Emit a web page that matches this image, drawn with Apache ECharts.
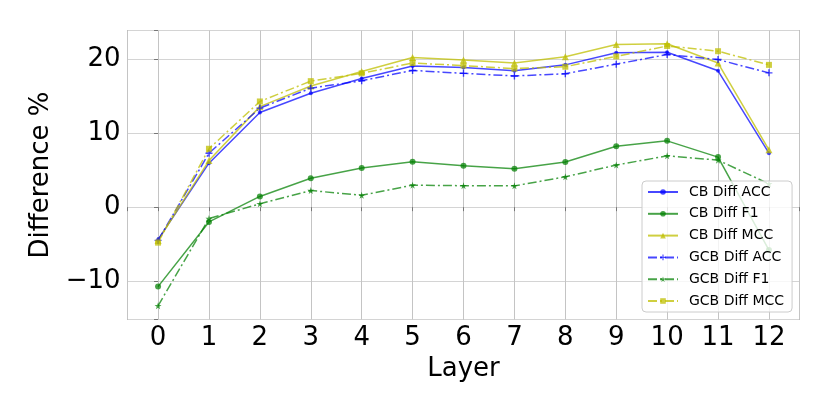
<!DOCTYPE html>
<html>
<head>
<meta charset="utf-8">
<script src="https://cdn.jsdelivr.net/npm/echarts@6/dist/echarts.min.js"></script>
<style>
html,body{margin:0;padding:0;background:#fff;}
#c{width:830px;height:415px;}
</style>
</head>
<body>
<div id="c"></div>
<script>
const layers = [0,1,2,3,4,5,6,7,8,9,10,11,12];
const cbAcc  = [-4.4, 5.95, 12.8, 15.4, 17.4, 19.1, 18.9, 18.45, 19.25, 20.9, 20.95, 18.45, 7.3];
const cbF1   = [-10.75, -2.0, 1.45, 3.9, 5.3, 6.13, 5.6, 5.2, 6.1, 8.25, 8.97, 6.77, -5.8];
const cbMcc  = [-4.5, 6.3, 13.6, 16.4, 18.35, 20.25, 19.9, 19.5, 20.35, 22.0, 22.1, 19.5, 7.75];
const gcbAcc = [-4.5, 7.3, 13.4, 16.1, 17.1, 18.5, 18.1, 17.75, 18.05, 19.35, 20.65, 19.97, 18.17];
const gcbF1  = [-13.35, -1.55, 0.45, 2.25, 1.6, 2.98, 2.9, 2.88, 4.1, 5.7, 6.94, 6.36, 3.15];
const gcbMcc = [-4.8, 7.9, 14.3, 17.05, 18.1, 19.5, 19.15, 18.75, 19.0, 20.4, 21.8, 21.1, 19.25];
const names = ['CB Diff ACC','CB Diff F1','CB Diff MCC','GCB Diff ACC','GCB Diff F1','GCB Diff MCC'];

const BLUE = 'rgba(0,0,255,0.72)';
const GREEN = 'rgba(0,128,0,0.72)';
const YELLOW = 'rgba(191,191,0,0.75)';
const DASHDOT = [9,3,2,3];
const PLUS = 'path://M4,0H6V4H10V6H6V10H4V6H0V4H4Z';
const STAR = 'path://M50,0 L61,35 L98,35 L68,57 L79,91 L50,70 L21,91 L32,57 L2,35 L39,35 Z';

function pairs(arr){ return arr.map((v,i)=>[layers[i], v]); }
function mk(name, data, color, symbol, size, dash){
  return {
    name, type:'line', data: pairs(data), color,
    symbol, symbolSize: size, showSymbol:true,
    lineStyle:{color, width:1.5, type: dash ? DASHDOT : 'solid'},
    itemStyle:{color, borderWidth:0},
    emphasis:{disabled:true}, animation:false, clip:false, z:3
  };
}
const FONT = 'DejaVu Sans';
const chart = echarts.init(document.getElementById('c'), null, {renderer:'canvas'});
chart.setOption({
  animation:false,
  backgroundColor:'#fff',
  grid:{left:127.5, top:30.5, width:672, height:289, show:true, borderColor:'#777', borderWidth:1, backgroundColor:'transparent'},
  legend:{
    orient:'vertical', left:642, top:181, data:names,
    itemWidth:30, itemHeight:7, itemGap:7.8,
    padding:[4,8,4,5],
    backgroundColor:'rgba(255,255,255,0.8)', borderColor:'#cccccc', borderWidth:1, borderRadius:4,
    textStyle:{fontFamily:FONT, fontSize:14, lineHeight:14, color:'#000', padding:[0,0,0,6]},
    selectedMode:false, z:10
  },
  xAxis:{
    type:'value', min:-0.6, max:12.6, minInterval:1, maxInterval:1,
    name:'Layer', nameLocation:'middle', nameGap:32,
    nameTextStyle:{fontFamily:FONT, fontSize:26, color:'#000'},
    axisLine:{show:false},
    axisTick:{show:true, length:4, lineStyle:{color:'#777'}},
    axisLabel:{fontFamily:FONT, fontSize:26, color:'#000', margin:6,
      formatter:v=> Math.abs(v-Math.round(v))<1e-6 ? String(Math.round(v)) : ''},
    splitLine:{show:true, lineStyle:{color:'#c4c4c4', width:1}}
  },
  yAxis:{
    type:'value', min:-15.2, max:23.9, minInterval:10, maxInterval:10,
    name:'Difference %', nameLocation:'middle', nameGap:70,
    nameTextStyle:{fontFamily:FONT, fontSize:26, color:'#000'},
    axisLine:{show:false},
    axisTick:{show:true, length:4, lineStyle:{color:'#777'}},
    axisLabel:{fontFamily:FONT, fontSize:26, color:'#000', margin:7,
      formatter:v=>{ const r=Math.round(v); if(Math.abs(v-r)>1e-6 || r%10!==0) return ''; return r<0 ? '\u2212'+(-r) : String(r); }},
    splitLine:{show:true, lineStyle:{color:'#d4d4d4', width:1}}
  },
  series:[
    mk(names[0], cbAcc, BLUE, 'circle', 4, false),
    mk(names[1], cbF1, GREEN, 'circle', 6, false),
    mk(names[2], cbMcc, YELLOW, 'triangle', 7, false),
    mk(names[3], gcbAcc, BLUE, PLUS, 7, true),
    mk(names[4], gcbF1, GREEN, STAR, 7, true),
    mk(names[5], gcbMcc, YELLOW, 'rect', 6, true)
  ]
});
</script>
</body>
</html>
